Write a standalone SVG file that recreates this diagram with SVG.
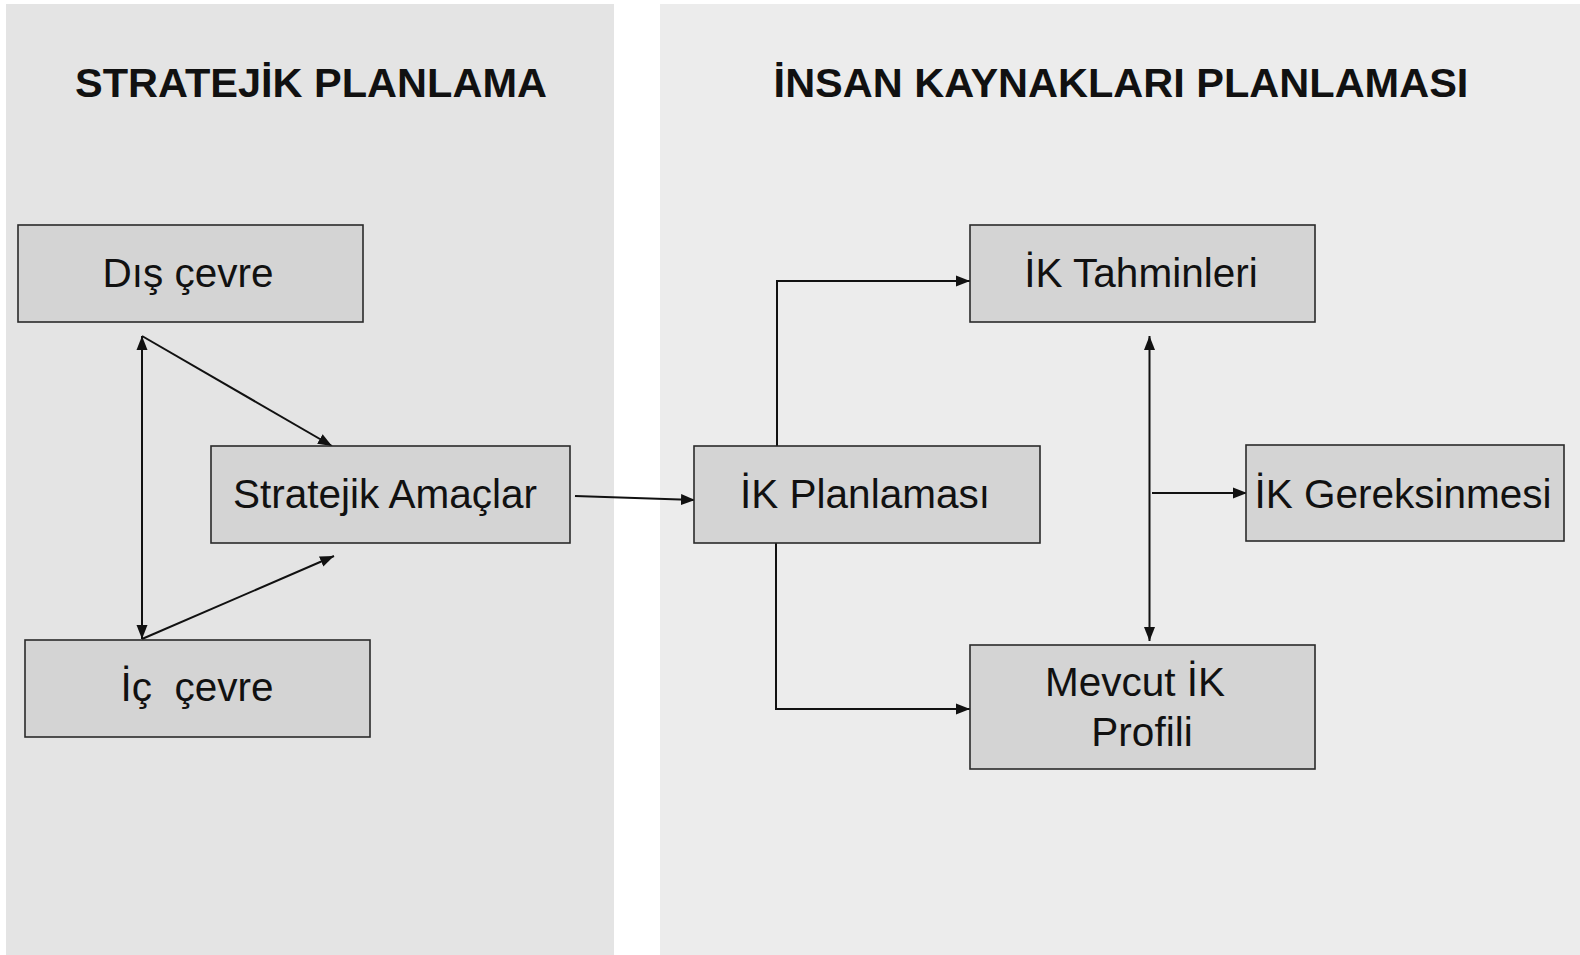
<svg xmlns="http://www.w3.org/2000/svg" width="1580" height="955" viewBox="0 0 1580 955">
<defs>
<style>
.panelL{fill:#e4e4e4}
.panelR{fill:#ececec}
.box{fill:#d4d4d4;stroke:#2a2a2a;stroke-width:1.6}
.lbl{font-family:"Liberation Sans",Arial,sans-serif;font-size:40.5px;fill:#111;text-anchor:middle}
.hdr{font-family:"Liberation Sans",Arial,sans-serif;font-size:41.5px;font-weight:bold;fill:#111;text-anchor:middle}
.conn{fill:none;stroke:#111;stroke-width:2}
</style>
<marker id="ah" markerUnits="userSpaceOnUse" markerWidth="16" markerHeight="12" refX="14" refY="6" orient="auto-start-reverse">
<path d="M0,0.5 L14,6 L0,11.5 z" fill="#111"/>
</marker>
</defs>
<rect x="0" y="0" width="1580" height="955" fill="#ffffff"/>
<rect class="panelL" x="6" y="4" width="608" height="951"/>
<rect class="panelR" x="660" y="4" width="920" height="951"/>
<text class="hdr" x="311" y="97">STRATEJİK PLANLAMA</text>
<text class="hdr" x="1121" y="97">İNSAN KAYNAKLARI PLANLAMASI</text>
<g id="connectors">
<line class="conn" x1="142" y1="336" x2="142" y2="639" marker-start="url(#ah)" marker-end="url(#ah)"/>
<line class="conn" x1="142" y1="336" x2="332" y2="446" marker-end="url(#ah)"/>
<line class="conn" x1="142" y1="639" x2="334" y2="556" marker-end="url(#ah)"/>
<line class="conn" x1="575" y1="496" x2="695" y2="500" marker-end="url(#ah)"/>
<path class="conn" d="M777,446 V281 H970" marker-end="url(#ah)"/>
<path class="conn" d="M776,543 V709 H970" marker-end="url(#ah)"/>
<line class="conn" x1="1149.5" y1="336" x2="1149.5" y2="641" marker-start="url(#ah)" marker-end="url(#ah)"/>
<line class="conn" x1="1152" y1="493" x2="1247" y2="493" marker-end="url(#ah)"/>
</g>
<g id="dis-cevre">
<rect class="box" x="18" y="225" width="345" height="97"/>
<text class="lbl" x="188" y="287">Dış çevre</text>
</g>
<g id="stratejik-amaclar">
<rect class="box" x="211" y="446" width="359" height="97"/>
<text class="lbl" x="385" y="508">Stratejik Amaçlar</text>
</g>
<g id="ic-cevre">
<rect class="box" x="25" y="640" width="345" height="97"/>
<text class="lbl" x="197" y="701" xml:space="preserve" style="white-space:pre">İç  çevre</text>
</g>
<g id="ik-planlamasi">
<rect class="box" x="694" y="446" width="346" height="97"/>
<text class="lbl" x="865" y="508">İK Planlaması</text>
</g>
<g id="ik-tahminleri">
<rect class="box" x="970" y="225" width="345" height="97"/>
<text class="lbl" x="1141" y="287">İK Tahminleri</text>
</g>
<g id="ik-gereksinmesi">
<rect class="box" x="1246" y="445" width="318" height="96"/>
<text class="lbl" x="1403" y="508">İK Gereksinmesi</text>
</g>
<g id="mevcut-ik-profili">
<rect class="box" x="970" y="645" width="345" height="124"/>
<text class="lbl" x="1135" y="696">Mevcut İK</text>
<text class="lbl" x="1142" y="746">Profili</text>
</g>
</svg>
